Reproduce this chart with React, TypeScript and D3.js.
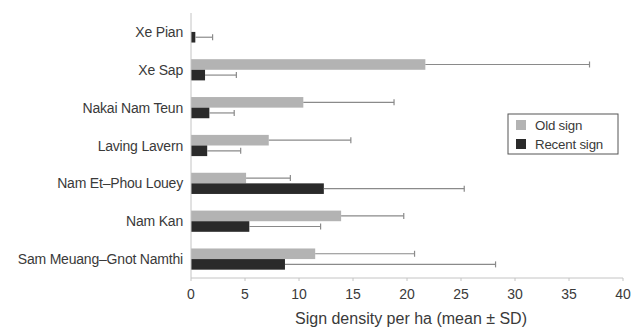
import React from 'react';
import * as d3 from 'd3';

const sites = [
  'Xe Pian',
  'Xe Sap',
  'Nakai Nam Teun',
  'Laving Lavern',
  'Nam Et\u2013Phou Louey',
  'Nam Kan',
  'Sam Meuang\u2013Gnot Namthi',
];
const oldMean = [0, 21.7, 10.4, 7.2, 5.1, 13.9, 11.5];
const oldSD = [0, 15.2, 8.4, 7.6, 4.1, 5.8, 9.2];
const recentMean = [0.4, 1.3, 1.7, 1.5, 12.3, 5.4, 8.7];
const recentSD = [1.6, 2.9, 2.3, 3.1, 13.0, 6.6, 19.5];
const seriesNames = ['Old sign', 'Recent sign'];
const xTicks = [0, 5, 10, 15, 20, 25, 30, 35, 40];

const colors = ['#b3b3b3', '#2a2a2a'];
const font = '"Liberation Sans", Arial, sans-serif';

export default function App() {
  const W = 633;
  const H = 329;
  const margin = { top: 13, right: 10, bottom: 51, left: 191 };

  const x = d3.scaleLinear().domain([0, 40]).range([margin.left, 623]);
  const y = d3
    .scaleBand()
    .domain(sites)
    .range([margin.top, H - margin.bottom])
    .paddingInner(0.44)
    .paddingOuter(0.22);
  const sub = d3.scaleBand().domain(seriesNames).range([0, y.bandwidth()]);

  const series = [
    { name: seriesNames[0], mean: oldMean, sd: oldSD },
    { name: seriesNames[1], mean: recentMean, sd: recentSD },
  ];

  const axisY = H - margin.bottom;

  return (
    <svg
      width={W}
      height={H}
      style={{ position: 'absolute', left: 0, top: 0, background: '#fff' }}
      fontFamily={font}
    >
      {series.map((s, si) =>
        sites.map((site, i) => {
          const y0 = (y(site) as number) + (sub(s.name) as number);
          const h = sub.bandwidth();
          const cy = y0 + h / 2;
          const xEnd = x(s.mean[i] + s.sd[i]);
          return (
            <g key={s.name + site}>
              {s.mean[i] > 0 && (
                <rect
                  x={x(0)}
                  y={y0}
                  width={x(s.mean[i]) - x(0)}
                  height={h}
                  fill={colors[si]}
                />
              )}
              {s.sd[i] > 0 && (
                <g stroke="#8a8a8a" strokeWidth={1.2}>
                  <line x1={x(s.mean[i])} x2={xEnd} y1={cy} y2={cy} />
                  <line x1={xEnd} x2={xEnd} y1={cy - 3} y2={cy + 3} />
                </g>
              )}
            </g>
          );
        })
      )}

      {/* axes */}
      <line x1={x(0)} x2={x(0)} y1={margin.top} y2={axisY} stroke="#c4c4c4" />
      <line x1={x(0)} x2={x(40)} y1={axisY} y2={axisY} stroke="#c4c4c4" />
      {xTicks.map((t) => (
        <g key={t}>
          <line x1={x(t)} x2={x(t)} y1={axisY} y2={axisY + 3} stroke="#c4c4c4" />
          <text
            x={x(t)}
            y={axisY + 21}
            textAnchor="middle"
            fontSize={14}
            fill="#3a3a3a"
          >
            {t}
          </text>
        </g>
      ))}
      {sites.map((site) => (
        <text
          key={site}
          x={183}
          y={(y(site) as number) + y.bandwidth() / 2 + 5}
          textAnchor="end"
          fontSize={14}
          letterSpacing={-0.2}
          fill="#3a3a3a"
        >
          {site}
        </text>
      ))}
      <text
        x={411}
        y={324}
        textAnchor="middle"
        fontSize={16}
        fill="#3a3a3a"
      >
        Sign density per ha (mean ± SD)
      </text>

      {/* legend */}
      <g transform="translate(508,114)">
        <rect x={0} y={0} width={110} height={40} fill="#fff" stroke="#555" strokeWidth={1} />
        {seriesNames.map((n, i) => (
          <g key={n} transform={`translate(8,${6 + i * 19})`}>
            <rect width={10} height={10} fill={colors[i]} />
            <text x={19} y={10} fontSize={13.3} letterSpacing={-0.2} fill="#3a3a3a">
              {n}
            </text>
          </g>
        ))}
      </g>
    </svg>
  );
}
